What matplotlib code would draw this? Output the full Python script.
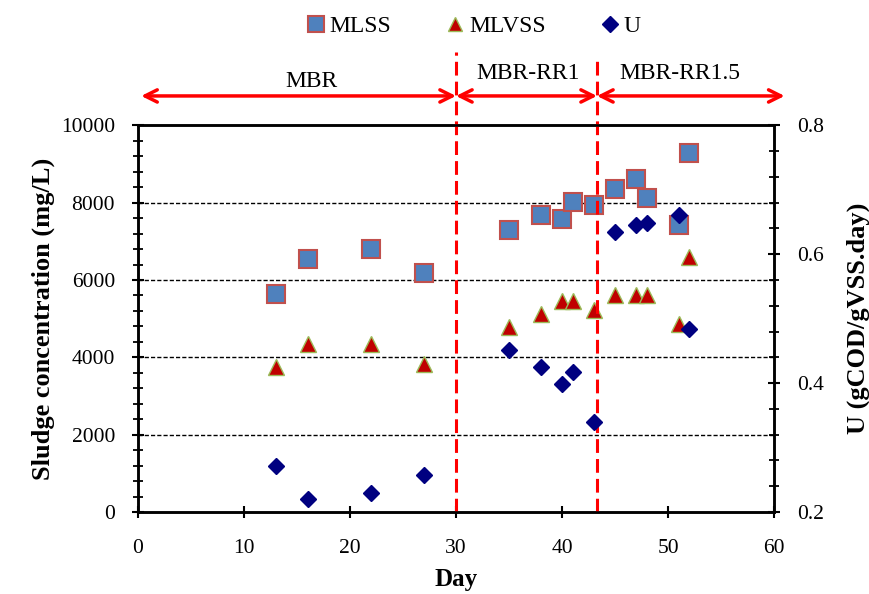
import matplotlib.pyplot as plt
from matplotlib.ticker import MultipleLocator

# values
day = [13, 16, 22, 27, 35, 38, 40, 41, 43, 45, 47, 48, 51, 52]
mlss = [5630, 6550, 6800, 6170, 7290, 7680, 7570, 8020, 7950, 8350, 8600, 8130, 7430, 9280]
mlvss = [3760, 4350, 4350, 3830, 4790, 5130, 5450, 5450, 5220, 5600, 5600, 5600, 4850, 6600]
u = [0.271, 0.220, 0.230, 0.258, 0.451, 0.425, 0.398, 0.417, 0.340,
     0.635, 0.646, 0.649, 0.661, 0.484]

phase_edges = [0.3, 30, 43.3, 61]
phase_names = ['MBR', 'MBR-RR1', 'MBR-RR1.5']
phase_label_x = [16.4, 36.8, 51.1]
phase_label_y = [1.113, 1.135, 1.135]

plt.rcParams['font.family'] = ['Liberation Serif', 'DejaVu Serif']

fig = plt.figure(figsize=(8.7, 5.94), dpi=100)
ax = fig.add_axes([0.1586, 0.138, 0.7311, 0.651])
ax2 = ax.twinx()

ax.set_xlim(0, 60)
ax.set_ylim(0, 10000)
ax2.set_ylim(0.2, 0.8)

for y in [2000, 4000, 6000, 8000]:
    ax.axhline(y, color='black', linestyle=(0, (3, 1.5)), lw=1.0, zorder=1)

sq, = ax.plot(day, mlss, 's', ms=12.5, mfc='#4F81BD', mec='#C0504D', mew=1.5,
              linestyle='none', zorder=3, label='MLSS')
tr, = ax.plot(day, mlvss, '^', ms=11.5, mfc='#C00000', mec='#9BBB59', mew=1.0,
              linestyle='none', zorder=3, label='MLVSS')
dm, = ax2.plot(day, u, 'D', ms=8.5, mfc='#000080', mec='#000080',
               linestyle='none', zorder=3, label='U')

# phase separators and arrows
ax.axvline(30, ymin=0, ymax=1.19, color='red', lw=2.2, linestyle=(0, (4.5, 2)),
           clip_on=False, zorder=4)
ax.axvline(43.3, ymin=0, ymax=1.173, color='red', lw=2.2, linestyle=(0, (4.5, 2)),
           clip_on=False, zorder=4)
for i in range(3):
    ax.annotate('', xy=(phase_edges[i + 1], 1.076), xytext=(phase_edges[i], 1.076),
                xycoords=('data', 'axes fraction'), textcoords=('data', 'axes fraction'),
                arrowprops=dict(arrowstyle='<->', color='red', lw=2.5, mutation_scale=22,
                                shrinkA=0, shrinkB=0),
                annotation_clip=False)
    ax.text(phase_label_x[i], phase_label_y[i], phase_names[i], transform=ax.get_xaxis_transform(),
            ha='center', va='center', fontsize=17)

ax.set_xticks(range(0, 61, 10))
ax.set_yticks(range(0, 10001, 2000))
ax.yaxis.set_minor_locator(MultipleLocator(400))
ax2.set_yticks([0.2, 0.4, 0.6, 0.8])
ax2.yaxis.set_minor_locator(MultipleLocator(0.04))

ax.tick_params(axis='x', direction='inout', length=9, width=1.5, pad=15, labelsize=15.5)
ax.tick_params(axis='y', which='major', direction='inout', length=9, width=1.5, pad=12, labelsize=15.5)
ax.tick_params(axis='y', which='minor', direction='inout', length=7, width=1.3)
ax2.tick_params(axis='y', which='major', direction='inout', length=9, width=1.5, pad=12, labelsize=15.5)
ax2.tick_params(axis='y', which='minor', direction='inout', length=7, width=1.3)

for a in (ax, ax2):
    for s in a.spines.values():
        s.set_linewidth(1.8)

ax.set_xlabel('Day', fontsize=18, fontweight='bold', labelpad=7)
ax.set_ylabel('Sludge concentration (mg/L)', fontsize=19, fontweight='bold', labelpad=4)
ax2.set_ylabel('U (gCOD/gVSS.day)', fontsize=19, fontweight='bold', rotation=90, labelpad=16)

fig.legend(handles=[sq, tr, dm], loc='center', bbox_to_anchor=(0.543, 0.956), ncol=3,
           frameon=False, fontsize=17, columnspacing=2.2, handletextpad=0.1,
           handlelength=1.0, markerscale=0.9)

fig.savefig('out.png', dpi=100)
